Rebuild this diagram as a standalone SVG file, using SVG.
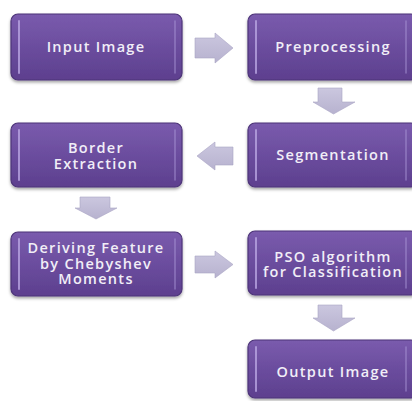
<svg xmlns="http://www.w3.org/2000/svg" width="412" height="401" viewBox="0 0 412 401">
<defs>
<linearGradient id="boxg" x1="0" y1="0" x2="0" y2="1">
<stop offset="0" stop-color="#7a5bad"/>
<stop offset="0.5" stop-color="#6b4d9e"/>
<stop offset="1" stop-color="#5d3f8e"/>
</linearGradient>
<linearGradient id="arrg" x1="0" y1="0" x2="0" y2="1">
<stop offset="0" stop-color="#cbc7df"/>
<stop offset="1" stop-color="#b7b2cf"/>
</linearGradient>
<filter id="sh" x="-10%" y="-10%" width="120%" height="130%">
<feGaussianBlur in="SourceAlpha" stdDeviation="1.5"/>
<feOffset dx="0" dy="1.5" result="b"/>
<feFlood flood-color="#000" flood-opacity="0.35"/>
<feComposite in2="b" operator="in"/>
<feMerge><feMergeNode/><feMergeNode in="SourceGraphic"/></feMerge>
</filter>
</defs>
<style>
.box{fill:url(#boxg);stroke:#4d3479;stroke-width:1.2;filter:url(#sh)}
.hl{stroke:#b9a5e2;stroke-width:2;stroke-linecap:round;opacity:0.8}
.hr{stroke:#a995d6;stroke-width:1.5;stroke-linecap:round;opacity:0.6}
.t{font-family:"Open Sans","Noto Sans",sans-serif;font-size:14.5px;font-weight:600;fill:#f1eef7;text-anchor:middle;letter-spacing:1.3px}
.arr{fill:url(#arrg);stroke:#aaa5c4;stroke-width:0.6}
</style>
<rect width="412" height="401" fill="#ffffff"/>
<g id="input">
<rect class="box" x="11" y="14" width="171" height="66" rx="7"/>
<line class="hl" x1="19" y1="21" x2="19" y2="73"/>
<line class="hr" x1="175" y1="21" x2="175" y2="73"/>
<text class="t" x="96" y="52">Input Image</text>
</g>
<g id="preprocessing">
<rect class="box" x="248" y="14" width="170" height="66" rx="7"/>
<line class="hl" x1="256" y1="21" x2="256" y2="73"/>
<line class="hr" x1="406" y1="21" x2="406" y2="73"/>
<text class="t" x="333" y="52">Preprocessing</text>
</g>
<g id="segmentation">
<rect class="box" x="248" y="123" width="170" height="64" rx="7"/>
<line class="hl" x1="256" y1="130" x2="256" y2="180"/>
<line class="hr" x1="406" y1="130" x2="406" y2="180"/>
<text class="t" x="333" y="160">Segmentation</text>
</g>
<g id="border">
<rect class="box" x="11" y="123" width="171" height="64" rx="7"/>
<line class="hl" x1="19" y1="130" x2="19" y2="180"/>
<line class="hr" x1="175" y1="130" x2="175" y2="180"/>
<text class="t" x="96" y="153">Border</text>
<text class="t" x="96" y="168.5">Extraction</text>
</g>
<g id="deriving">
<rect class="box" x="11" y="232" width="171" height="64" rx="7"/>
<line class="hl" x1="19" y1="239" x2="19" y2="289"/>
<line class="hr" x1="175" y1="239" x2="175" y2="289"/>
<text class="t" x="96" y="253">Deriving Feature</text>
<text class="t" x="96" y="268.5">by Chebyshev</text>
<text class="t" x="96" y="284">Moments</text>
</g>
<g id="pso">
<rect class="box" x="248" y="231" width="170" height="64" rx="7"/>
<line class="hl" x1="256" y1="238" x2="256" y2="288"/>
<line class="hr" x1="406" y1="238" x2="406" y2="288"/>
<text class="t" x="333" y="261.5">PSO algorithm</text>
<text class="t" x="333" y="277">for Classification</text>
</g>
<g id="output">
<rect class="box" x="248" y="340" width="170" height="58" rx="7"/>
<line class="hl" x1="256" y1="347" x2="256" y2="391"/>
<line class="hr" x1="406" y1="347" x2="406" y2="391"/>
<text class="t" x="333" y="376.5">Output Image</text>
</g>
<g id="connectors">
<path class="arr" d="M195 38 H215 V33 L233 48 L215 63 V58 H195 Z"/>
<path class="arr" d="M318 88 H342 V102 H355 L333.5 114 L313 102 H318 Z"/>
<path class="arr" d="M233 147 H215 V142 L197 156 L215 170 V165 H233 Z"/>
<path class="arr" d="M80 197 H110 V208 H117 L96 219 L75 208 H80 Z"/>
<path class="arr" d="M195 256 H215 V251 L233 264.5 L215 278 V273 H195 Z"/>
<path class="arr" d="M318 305 H342 V318 H355 L333.5 331 L313 318 H318 Z"/>
</g>
</svg>
